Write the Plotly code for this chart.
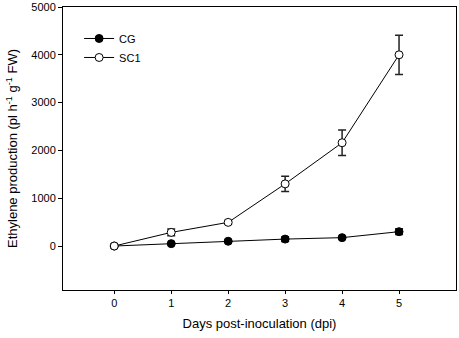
import plotly.graph_objects as go

days = [0, 1, 2, 3, 4, 5]
cg_values = [0, 50, 100, 145, 175, 300]
cg_errors = [0, 15, 20, 50, 25, 60]
sc1_values = [0, 285, 495, 1300, 2160, 4000]
sc1_errors = [0, 70, 40, 160, 265, 410]
y_ticks = [0, 1000, 2000, 3000, 4000, 5000]

font = "Liberation Sans, Arial, sans-serif"

fig = go.Figure()
fig.add_trace(go.Scatter(
    x=days, y=cg_values, name="CG", mode="lines+markers",
    line=dict(color="black", width=1),
    marker=dict(symbol="circle", size=8, color="black", line=dict(color="black", width=1)),
    error_y=dict(type="data", array=cg_errors, visible=True, color="#222", thickness=1.5, width=4),
))
fig.add_trace(go.Scatter(
    x=days, y=sc1_values, name="SC1", mode="lines+markers",
    line=dict(color="black", width=1),
    marker=dict(symbol="circle", size=8, color="white", line=dict(color="black", width=1)),
    error_y=dict(type="data", array=sc1_errors, visible=True, color="#222", thickness=1.5, width=4),
))

fig.update_layout(
    width=459, height=338,
    margin=dict(l=63, r=3, t=7, b=48, autoexpand=False),
    paper_bgcolor="white", plot_bgcolor="white",
    font=dict(family=font, size=11, color="black"),
    showlegend=True,
    legend=dict(x=0.041, y=0.94, xanchor="left", yanchor="top",
                bgcolor="rgba(0,0,0,0)", font=dict(size=11, family=font),
                itemwidth=30, tracegroupgap=0),
    xaxis=dict(
        range=[-0.9, 6.0], tickvals=days, ticktext=[str(d) for d in days],
        showgrid=False, zeroline=False, showline=True, linecolor="black", linewidth=1,
        mirror=True, ticks="outside", ticklen=3, tickcolor="black",
        tickfont=dict(size=11), automargin=False,
        title=dict(text="Days post-inoculation (dpi)", font=dict(size=13), standoff=10),
    ),
    yaxis=dict(
        range=[-920, 5000], tickvals=y_ticks, ticktext=[str(v) for v in y_ticks],
        showgrid=False, zeroline=False, showline=True, linecolor="black", linewidth=1,
        mirror=True, ticks="outside", ticklen=4, tickcolor="black", tickfont=dict(size=11),
        automargin=False,
        title=dict(text="Ethylene production (pl h<sup>-1</sup> g<sup>-1</sup> FW)", font=dict(size=13), standoff=10),
    ),
)

fig.write_html(
    "out.html",
    config={"displayModeBar": False},
    post_script="document.body.style.margin='0';document.body.style.overflow='hidden';",
)
